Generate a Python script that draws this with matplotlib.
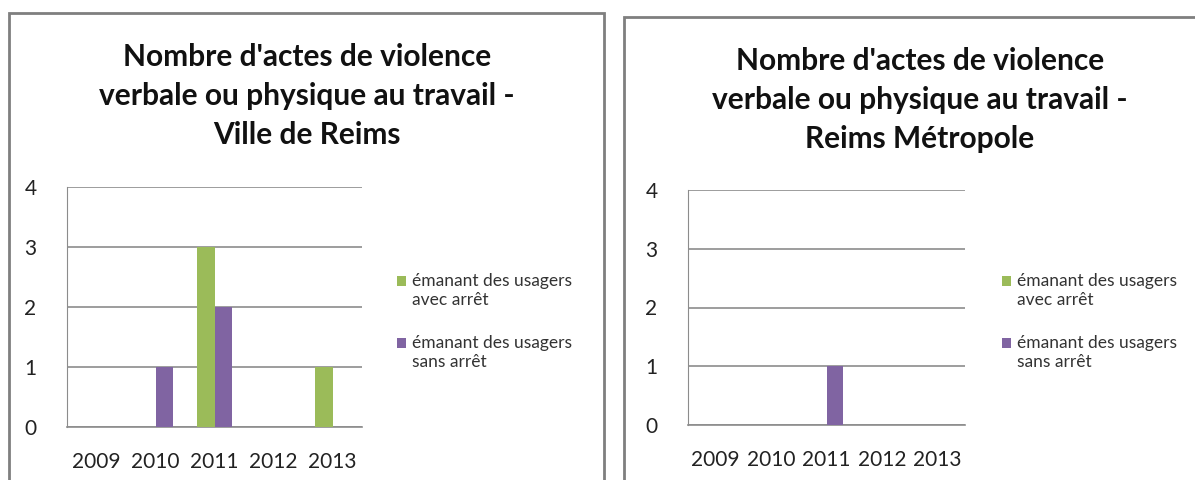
import matplotlib
matplotlib.use('Agg')
import matplotlib.pyplot as plt
import matplotlib.patches as mpatches
import numpy as np

plt.rcParams['font.family'] = ['Lato', 'DejaVu Sans']

years = ['2009', '2010', '2011', '2012', '2013']
ville_avec = [0, 0, 3, 0, 1]
ville_sans = [0, 1, 2, 0, 0]
metro_avec = [0, 0, 0, 0, 0]
metro_sans = [0, 0, 1, 0, 0]
label_avec = "émanant des usagers\navec arrêt"
label_sans = "émanant des usagers\nsans arrêt"
titles = ["Nombre d'actes de violence\nverbale ou physique au travail -\nVille de Reims",
          "Nombre d'actes de violence\nverbale ou physique au travail -\nReims Métropole"]

green = '#9bbb59'
purple = '#8064a2'
W, H = 1195, 480

fig = plt.figure(figsize=(W / 100, H / 100), dpi=100)

# panel frames (px: left, top, right)
for x0, y0, x1 in [(9, 13, 604), (624, 17, 1210)]:
    fig.add_artist(mpatches.Rectangle((x0 / W, -0.1), (x1 - x0) / W, 1.1 - y0 / H,
                                      transform=fig.transFigure, fill=False,
                                      edgecolor='#7f7f7f', linewidth=2))


def panel(rect, avec, sans, title, title_xy, leg_xy):
    l, t, r, b = rect
    ax = fig.add_axes([l / W, 1 - b / H, (r - l) / W, (b - t) / H])
    x = np.arange(len(years))
    bw = 0.29
    ax.bar(x - bw / 2, avec, bw, color=green, label=label_avec, zorder=3)
    ax.bar(x + bw / 2, sans, bw, color=purple, label=label_sans, zorder=3)
    ax.set_xlim(-0.5, len(years) - 0.5)
    ax.set_ylim(0, 4)
    ax.set_yticks([0, 1, 2, 3, 4])
    ax.set_xticks(x)
    ax.set_xticklabels(years)
    ax.yaxis.grid(True, color='#8c8c8c', linewidth=1.2, zorder=0)
    ax.set_axisbelow(True)
    for s in ['top', 'right']:
        ax.spines[s].set_visible(False)
    ax.spines['left'].set_color('#8c8c8c')
    ax.spines['bottom'].set_color('#8c8c8c')
    ax.spines['bottom'].set_linewidth(1.2)
    ax.tick_params(length=0, labelsize=15, colors='#222222')
    ax.tick_params(axis='y', pad=22)
    ax.tick_params(axis='x', pad=18)
    fig.text(title_xy[0] / W, 1 - title_xy[1] / H, title, ha='center', va='top',
             fontsize=21.5, fontweight='bold', linespacing=1.47, color='#111111')
    leg = ax.legend(loc='upper left', bbox_to_anchor=(leg_xy[0] / W, 1 - leg_xy[1] / H),
                    bbox_transform=fig.transFigure, frameon=False, fontsize=12.5,
                    handlelength=0.5, handleheight=0.5, handletextpad=0.35,
                    labelspacing=1.6, borderpad=0, borderaxespad=0, labelcolor='#333333')
    for txt in leg.get_texts():
        txt.set_linespacing(1.2)
    # put the square next to the first line of each label
    for hp in leg.legend_handles:
        hp.set_y(hp.get_y() + 7)
    return ax


panel((67, 187, 362, 427), ville_avec, ville_sans, titles[0], (307, 43), (397, 273))
panel((688, 190, 965, 425), metro_avec, metro_sans, titles[1], (920, 47), (1002, 273))

fig.savefig('out.png', dpi=100)
